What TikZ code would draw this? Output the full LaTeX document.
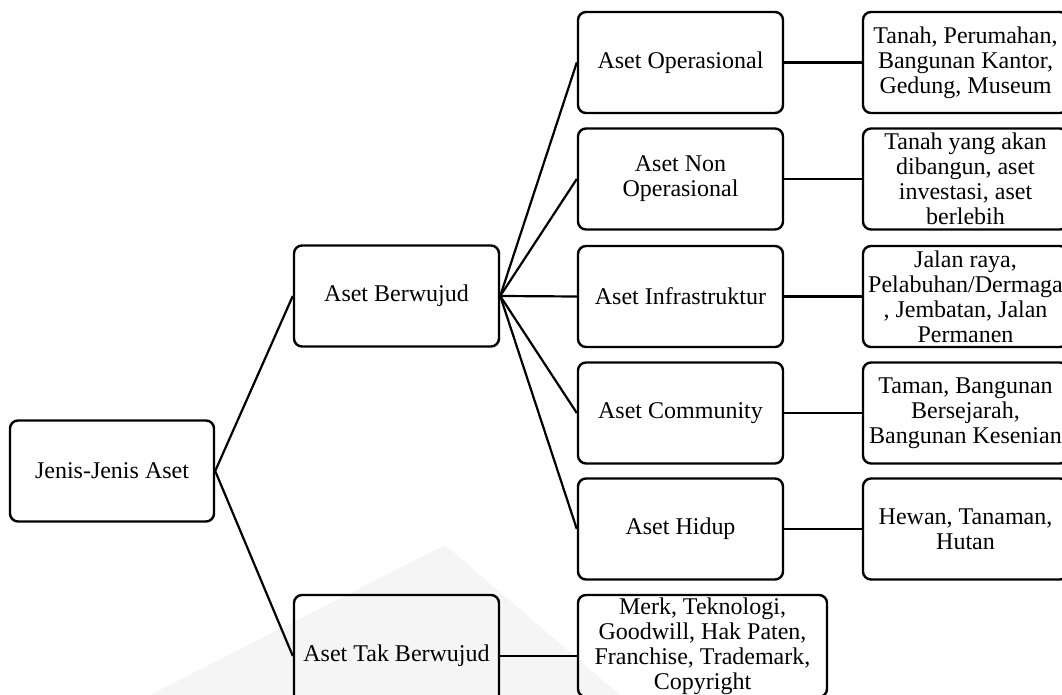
\documentclass[tikz,border=0pt]{standalone}
\usepackage{fontspec}
\setmainfont{Liberation Serif}
\begin{document}
\begin{tikzpicture}[x=0.5pt,y=-0.5pt,
  box/.style={draw, line width=1.2pt, rounded corners=4pt, align=center,
    minimum width=102.5pt, minimum height=50.5pt, inner sep=1pt,
    font=\fontsize{12}{12.5}\selectfont},
  link/.style={line width=1.1pt}]
\useasboundingbox (0,0) rectangle (1062,695);
\clip (0,0) rectangle (1062,695);
\fill[black!4] (150,695) -- (445,545) -- (620,695) -- cycle;
% level 0
\node[box, minimum width=102pt] (J) at (112,471) {Jenis-Jenis Aset};
% level 1
\node[box] (B) at (396.5,296) {Aset Berwujud};
\node[box, minimum height=61pt] (T) at (396.5,656) {Aset Tak Berwujud};
% level 2
\node[box] (O) at (680.5,62.5) {Aset Operasional};
\node[box] (N) at (680.5,179) {Aset Non\\Operasional};
\node[box] (I) at (680.5,296.5) {Aset Infrastruktur};
\node[box] (C) at (680.5,413) {Aset Community};
\node[box] (H) at (680.5,529) {Aset Hidup};
\node[box, minimum width=124.5pt, minimum height=51pt] (M) at (702.5,646) {Merk, Teknologi,\\Goodwill, Hak Paten,\\Franchise, Trademark,\\Copyright};
% level 3
\node[box] (O2) at (965.5,62.5) {Tanah, Perumahan,\\Bangunan Kantor,\\Gedung, Museum};
\node[box] (N2) at (965.5,179) {Tanah yang akan\\dibangun, aset\\investasi, aset\\berlebih};
\node[box] (I2) at (965.5,296.5) {Jalan raya,\\Pelabuhan/Dermaga\\, Jembatan, Jalan\\Permanen};
\node[box] (C2) at (965.5,413) {Taman, Bangunan\\Bersejarah,\\Bangunan Kesenian};
\node[box] (H2) at (965.5,529) {Hewan, Tanaman,\\Hutan};
% connectors
\draw[link] (J.east) -- (B.west);
\draw[link] (J.east) -- (T.west);
\foreach \n in {O,N,I,C,H} {
  \draw[link] (B.east) -- (\n.west);
  \draw[link] (\n.east) -- (\n2.west);
}
\draw[link] (T.east) -- (T.east -| M.west);
\end{tikzpicture}
\end{document}
